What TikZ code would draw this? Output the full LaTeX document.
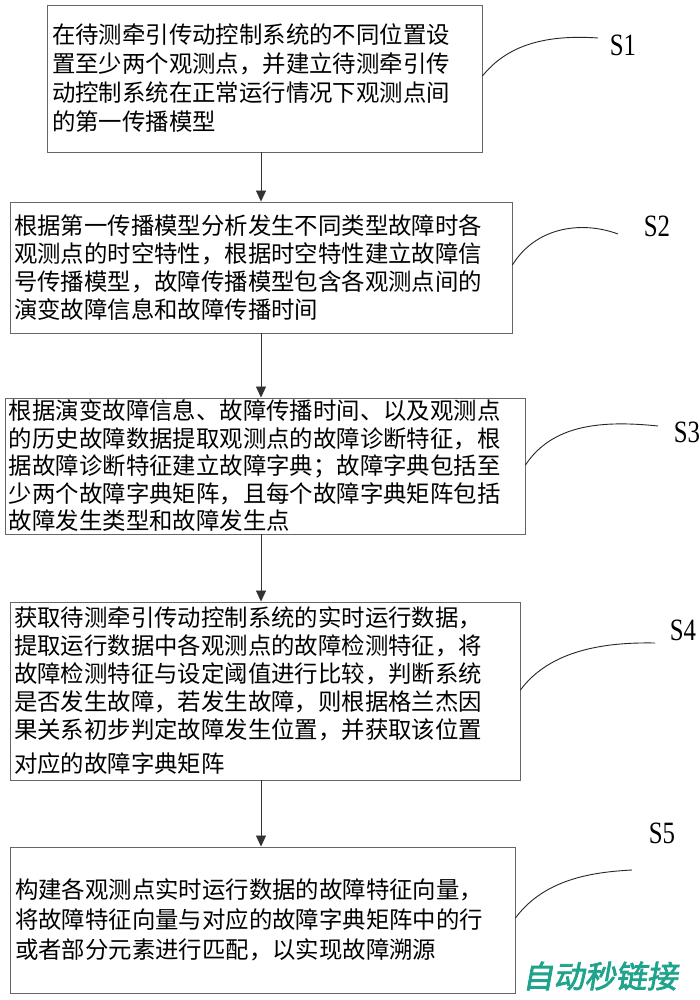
\documentclass[tikz,border=0pt]{standalone}
\usepackage{fontspec}
\setmainfont{Liberation Serif}
\newfontfamily\cjk{Noto Sans CJK SC}
\newfontfamily\wmfont[FakeBold=2.5,FakeSlant=0.18]{Noto Sans CJK SC}
\usetikzlibrary{arrows.meta}
\definecolor{wmteal}{RGB}{32,163,140}
\tikzset{
  stepbox/.style={draw=black!60, line width=0.9pt, rectangle, inner sep=0pt,
    align=left, font=\cjk\fontsize{23.4}{29}\selectfont},
  arr/.style={draw=black!80, line width=0.8pt, -{Triangle[length=11pt,width=10pt]}},
  lead/.style={draw=black!85, line width=0.9pt},
  slabel/.style={font=\fontsize{31}{31}\selectfont, inner sep=0pt, xscale=0.8}
}
\begin{document}
\begin{tikzpicture}[x=1pt,y=-1pt]
\useasboundingbox (0,0) rectangle (700,1000);
\fill[white] (0,0) rectangle (700,1000);
\coordinate (ax) at (261,0);

\node[stepbox, minimum width=435pt, minimum height=147pt, text width=425pt] (b1) at (264.5,78.5)
{在待测牵引传动控制系统的不同位置设\\置至少两个观测点，并建立待测牵引传\\动控制系统在正常运行情况下观测点间\\的第一传播模型};

\node[stepbox, minimum width=502pt, minimum height=131pt, text width=494pt, font=\cjk\fontsize{23.4}{28}\selectfont] (b2) at (261,267.5)
{根据第一传播模型分析发生不同类型故障时各\\观测点的时空特性，根据时空特性建立故障信\\号传播模型，故障传播模型包含各观测点间的\\演变故障信息和故障传播时间};

\node[stepbox, minimum width=520pt, minimum height=136pt, text width=512pt, font=\cjk\fontsize{23.4}{27.5}\selectfont] (b3) at (265,466)
{根据演变故障信息、故障传播时间、以及观测点\\的历史故障数据提取观测点的故障诊断特征，根\\据故障诊断特征建立故障字典；故障字典包括至\\少两个故障字典矩阵，且每个故障字典矩阵包括\\故障发生类型和故障发生点};

\node[stepbox, minimum width=510pt, minimum height=178pt, text width=502pt, font=\cjk\fontsize{23.4}{28}\selectfont] (b4) at (265,691)
{获取待测牵引传动控制系统的实时运行数据，\\提取运行数据中各观测点的故障检测特征，将\\故障检测特征与设定阈值进行比较，判断系统\\是否发生故障，若发生故障，则根据格兰杰因\\果关系初步判定故障发生位置，并获取该位置\\[6pt]对应的故障字典矩阵};

\node[stepbox, minimum width=505pt, minimum height=146pt, text width=495pt, font=\cjk\fontsize{23.4}{30}\selectfont] (b5) at (262.5,920)
{构建各观测点实时运行数据的故障特征向量，\\将故障特征向量与对应的故障字典矩阵中的行\\或者部分元素进行匹配，以实现故障溯源};

\draw[arr] (b1.south -| ax) -- (b2.north -| ax);
\draw[arr] (b2.south -| ax) -- (b3.north -| ax);
\draw[arr] (b3.south -| ax) -- (b4.north -| ax);
\draw[arr] (b4.south -| ax) -- (b5.north -| ax);

\coordinate (c1) at (598,38);
\coordinate (c2) at (618,234);
\coordinate (c3) at (658,426);
\coordinate (c4) at (655,643);
\coordinate (c5) at (632,870);
\coordinate (e1) at (b1.east |- 0,76);
\coordinate (e2) at (b2.east |- 0,265);
\coordinate (e3) at (b3.east |- 0,465);
\coordinate (e4) at (b4.east |- 0,690);
\coordinate (e5) at (b5.east |- 0,918);

\draw[lead] (e1) .. controls (505,48) and (540,34) .. (c1);
\draw[lead] (e2) .. controls (535,228) and (580,220) .. (c2);
\draw[lead] (e3) .. controls (552,425) and (600,420) .. (c3);
\draw[lead] (e4) .. controls (550,650) and (605,642) .. (c4);
\draw[lead] (e5) .. controls (545,878) and (595,872) .. (c5);

\node[slabel] (s1) at (623,45) {S1};
\node[slabel] (s2) at (657,226) {S2};
\node[slabel] (s3) at (687,432) {S3};
\node[slabel] (s4) at (683,630) {S4};
\node[slabel] (s5) at (662,833) {S5};

\node[font=\wmfont\fontsize{31}{31}\selectfont, text=wmteal, inner sep=0pt] (wm) at (600,976) {自动秒链接};
\end{tikzpicture}
\end{document}
